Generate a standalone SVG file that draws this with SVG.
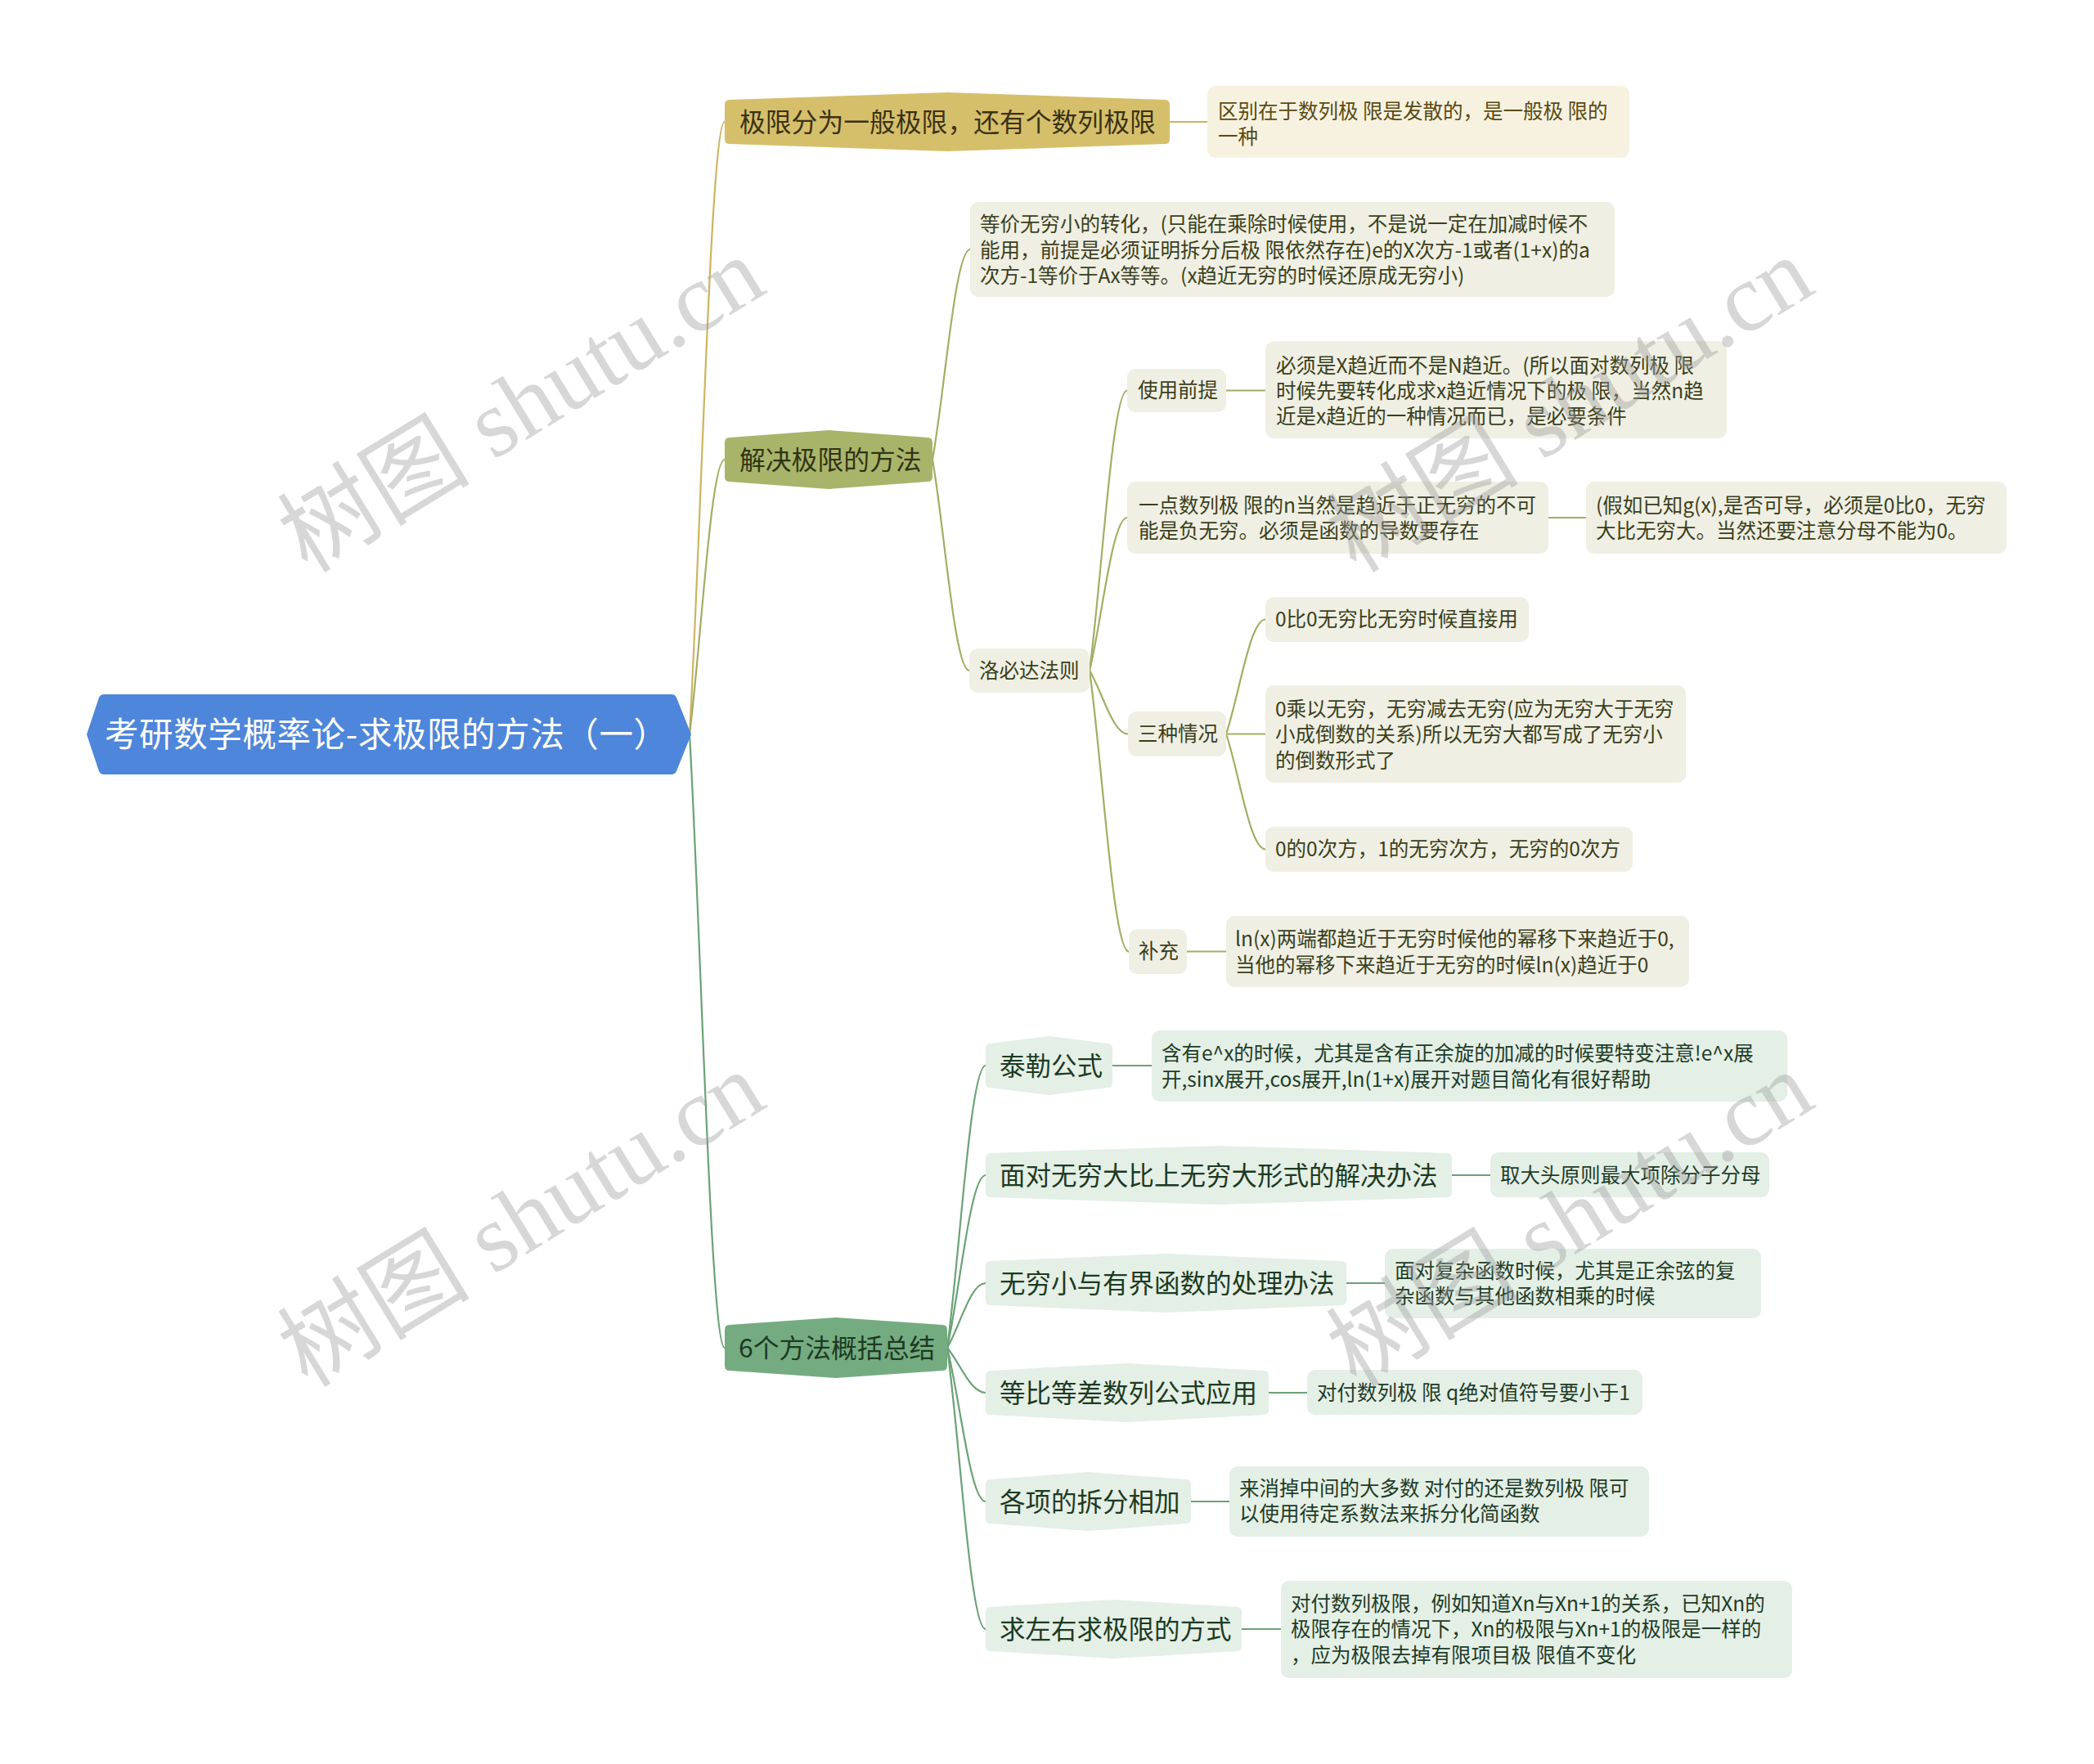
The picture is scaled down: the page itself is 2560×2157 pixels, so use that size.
<svg xmlns="http://www.w3.org/2000/svg" width="2560" height="2157" viewBox="0 0 2560 2157">
<style>
text { font-family: "Noto Sans CJK SC", "Liberation Sans", sans-serif; }
.lf { font-size: 24.5px; }
.mf { font-size: 31.8px; }
.sf { font-size: 31.5px; }
.rf { font-size: 41.5px; fill: #ffffff; }
.gLine { fill: none; stroke: #cdb45e; stroke-width: 2.2; }
.oLine { fill: none; stroke: #a3ad64; stroke-width: 2.2; }
.nLine { fill: none; stroke: #6aa276; stroke-width: 2.2; }
.gMain { fill: #d6bf6b; }
.gLeaf { fill: #f6f2df; }
.gTxt { fill: #3a3214; }
.gLeafTxt { fill: #5a4a14; }
.oMain { fill: #a9b46b; }
.oLeaf { fill: #efefe3; }
.oTxt { fill: #2f3414; }
.oLeafTxt { fill: #3b3f1c; }
.nMain { fill: #75ab80; }
.nLeaf { fill: #e4efe6; }
.nTxt { fill: #1c3a22; }
.nLeafTxt { fill: #1e3c26; }
.wm { font-family: "Liberation Serif", "Noto Sans CJK SC", serif; font-size: 118px; fill: #9a9a9a; fill-opacity: 0.4; }
</style>
<rect width="2560" height="2157" fill="#ffffff"/>

<g id="connectors">
  <path class="gLine" d="M843,898 C857.2,650.8 868.8,149 886,149"/>
  <path class="oLine" d="M843,898 C857.2,787.1 868.8,562 886,562"/>
  <path class="nLine" d="M843,898 C857.2,1145.5 868.8,1648 886,1648"/>
  <path class="gLine" d="M1430,149 L1476,149"/>
  <path class="oLine" d="M1140,562 C1155.2,477.2 1167.6,305 1186,305"/>
  <path class="oLine" d="M1140,562 C1154.9,647.1 1167,820 1185,820"/>
  <path class="oLine" d="M1332,820 C1347.2,707 1359.6,477.5 1378,477.5"/>
  <path class="oLine" d="M1332,820 C1347.2,758.3 1359.6,633 1378,633"/>
  <path class="oLine" d="M1332,820 C1347.5,845.6 1360.2,897.5 1379,897.5"/>
  <path class="oLine" d="M1332,820 C1347.8,933.4 1360.8,1163.5 1380,1163.5"/>
  <path class="oLine" d="M1499,477.5 L1547,477.5"/>
  <path class="oLine" d="M1893,633 L1939,633"/>
  <path class="oLine" d="M1499,897.5 C1514.8,851.3 1527.8,757.5 1547,757.5"/>
  <path class="oLine" d="M1499,897.5 L1547,897.5"/>
  <path class="oLine" d="M1499,897.5 C1514.8,944 1527.8,1038.5 1547,1038.5"/>
  <path class="oLine" d="M1451,1163.5 L1499,1163.5"/>
  <path class="nLine" d="M1158,1648 C1173.5,1534.2 1186.2,1303 1205,1303"/>
  <path class="nLine" d="M1158,1648 C1173.5,1578.4 1186.2,1437 1205,1437"/>
  <path class="nLine" d="M1158,1648 C1173.5,1621.9 1186.2,1569 1205,1569"/>
  <path class="nLine" d="M1158,1648 C1173.5,1666.2 1186.2,1703 1205,1703"/>
  <path class="nLine" d="M1158,1648 C1173.5,1710 1186.2,1836 1205,1836"/>
  <path class="nLine" d="M1158,1648 C1173.5,1761.5 1186.2,1992 1205,1992"/>
  <path class="nLine" d="M1360,1303 L1408,1303"/>
  <path class="nLine" d="M1775,1437 L1822,1437"/>
  <path class="nLine" d="M1646,1569 L1693,1569"/>
  <path class="nLine" d="M1551,1703 L1598,1703"/>
  <path class="nLine" d="M1456,1836 L1503,1836"/>
  <path class="nLine" d="M1518,1992 L1566,1992"/>
</g>

<g id="root">
  <path d="M106,898 L121,853 Q123,849 127,849 L821,849 Q825,849 827,853 L845,898 L827,943 Q825,947 821,947 L127,947 Q123,947 121,943 Z" fill="#4d86da"/>
  <text class="rf" x="128" y="913" textLength="688" lengthAdjust="spacing">考研数学概率论-求极限的方法（一）</text>
</g>

<g id="b1">
  <path class="gMain" d="M886,128 Q886,122 892,122 L1158,113 L1424,122 Q1430,122 1430,128 L1430,170 Q1430,176 1424,176 L1158,185 L892,176 Q886,176 886,170 Z"/>
  <text class="mf gTxt" x="904" y="161">极限分为一般极限，还有个数列极限</text>
</g>
<g id="b1-leaf">
  <rect class="gLeaf" x="1476" y="105" width="516" height="88" rx="10"/>
  <text class="lf gLeafTxt" x="1489" y="145">区别在于数列极 限是发散的，是一般极 限的</text>
  <text class="lf gLeafTxt" x="1489" y="176">一种</text>
</g>

<g id="b2">
  <path class="oMain" d="M886,541 Q886,535 892,535 L1013,526 L1134,535 Q1140,535 1140,541 L1140,583 Q1140,589 1134,589 L1013,598 L892,589 Q886,589 886,583 Z"/>
  <text class="mf oTxt" x="904" y="574">解决极限的方法</text>
</g>
<g id="b2-equiv">
  <rect class="oLeaf" x="1186" y="247" width="788" height="116" rx="10"/>
  <text class="lf oLeafTxt" x="1198" y="283">等价无穷小的转化，(只能在乘除时候使用，不是说一定在加减时候不</text>
  <text class="lf oLeafTxt" x="1198" y="315">能用，前提是必须证明拆分后极 限依然存在)e的X次方-1或者(1+x)的a</text>
  <text class="lf oLeafTxt" x="1198" y="346">次方-1等价于Ax等等。(x趋近无穷的时候还原成无穷小)</text>
</g>
<g id="b2-lhopital">
  <rect class="oLeaf" x="1185" y="793" width="147" height="54" rx="10"/>
  <text class="lf oLeafTxt" x="1197" y="829">洛必达法则</text>
</g>
<g id="lh-premise">
  <rect class="oLeaf" x="1378" y="451" width="121" height="53" rx="10"/>
  <text class="lf oLeafTxt" x="1391" y="486">使用前提</text>
</g>
<g id="lh-premise-leaf">
  <rect class="oLeaf" x="1547" y="417" width="564" height="119" rx="10"/>
  <text class="lf oLeafTxt" x="1560" y="456">必须是X趋近而不是N趋近。(所以面对数列极 限</text>
  <text class="lf oLeafTxt" x="1560" y="487">时候先要转化成求x趋近情况下的极 限，当然n趋</text>
  <text class="lf oLeafTxt" x="1560" y="518">近是x趋近的一种情况而已，是必要条件</text>
</g>
<g id="lh-seq">
  <rect class="oLeaf" x="1378" y="589" width="515" height="88" rx="10"/>
  <text class="lf oLeafTxt" x="1392" y="627">一点数列极 限的n当然是趋近于正无穷的不可</text>
  <text class="lf oLeafTxt" x="1392" y="658">能是负无穷。必须是函数的导数要存在</text>
</g>
<g id="lh-seq-leaf">
  <rect class="oLeaf" x="1939" y="589" width="514" height="88" rx="10"/>
  <text class="lf oLeafTxt" x="1951" y="627">(假如已知g(x),是否可导，必须是0比0，无穷</text>
  <text class="lf oLeafTxt" x="1951" y="658">大比无穷大。当然还要注意分母不能为0。</text>
</g>
<g id="lh-three">
  <rect class="oLeaf" x="1379" y="870" width="120" height="55" rx="10"/>
  <text class="lf oLeafTxt" x="1391" y="906">三种情况</text>
</g>
<g id="three-1">
  <rect class="oLeaf" x="1547" y="730" width="322" height="55" rx="10"/>
  <text class="lf oLeafTxt" x="1559" y="766">0比0无穷比无穷时候直接用</text>
</g>
<g id="three-2">
  <rect class="oLeaf" x="1547" y="838" width="514" height="119" rx="10"/>
  <text class="lf oLeafTxt" x="1559" y="876">0乘以无穷，无穷减去无穷(应为无穷大于无穷</text>
  <text class="lf oLeafTxt" x="1559" y="907">小成倒数的关系)所以无穷大都写成了无穷小</text>
  <text class="lf oLeafTxt" x="1559" y="939">的倒数形式了</text>
</g>
<g id="three-3">
  <rect class="oLeaf" x="1547" y="1011" width="449" height="55" rx="10"/>
  <text class="lf oLeafTxt" x="1559" y="1047">0的0次方，1的无穷次方，无穷的0次方</text>
</g>
<g id="lh-supp">
  <rect class="oLeaf" x="1380" y="1136" width="71" height="55" rx="10"/>
  <text class="lf oLeafTxt" x="1392" y="1172">补充</text>
</g>
<g id="lh-supp-leaf">
  <rect class="oLeaf" x="1499" y="1120" width="566" height="87" rx="10"/>
  <text class="lf oLeafTxt" x="1510" y="1157">ln(x)两端都趋近于无穷时候他的幂移下来趋近于0,</text>
  <text class="lf oLeafTxt" x="1510" y="1189">当他的幂移下来趋近于无穷的时候ln(x)趋近于0</text>
</g>

<g id="b3">
  <path class="nMain" d="M886,1626 Q886,1620 892,1620 L1022,1611 L1152,1620 Q1158,1620 1158,1626 L1158,1670 Q1158,1676 1152,1676 L1022,1685 L892,1676 Q886,1676 886,1670 Z"/>
  <text class="mf nTxt" x="903" y="1660">6个方法概括总结</text>
</g>
<g id="m-taylor">
  <path class="nLeaf" d="M1205,1282 Q1205,1276 1211,1276 L1282.5,1267 L1354,1276 Q1360,1276 1360,1282 L1360,1324 Q1360,1330 1354,1330 L1282.5,1339 L1211,1330 Q1205,1330 1205,1324 Z"/>
  <text class="sf nTxt" x="1222" y="1315">泰勒公式</text>
</g>
<g id="m-taylor-leaf">
  <rect class="nLeaf" x="1408" y="1260" width="777" height="87" rx="10"/>
  <text class="lf nLeafTxt" x="1420" y="1297">含有e^x的时候，尤其是含有正余旋的加减的时候要特变注意!e^x展</text>
  <text class="lf nLeafTxt" x="1420" y="1329">开,sinx展开,cos展开,ln(1+x)展开对题目简化有很好帮助</text>
</g>
<g id="m-inf">
  <path class="nLeaf" d="M1205,1416 Q1205,1410 1211,1410 L1490,1401 L1769,1410 Q1775,1410 1775,1416 L1775,1458 Q1775,1464 1769,1464 L1490,1473 L1211,1464 Q1205,1464 1205,1458 Z"/>
  <text class="sf nTxt" x="1222" y="1449">面对无穷大比上无穷大形式的解决办法</text>
</g>
<g id="m-inf-leaf">
  <rect class="nLeaf" x="1822" y="1409" width="341" height="55" rx="10"/>
  <text class="lf nLeafTxt" x="1834" y="1446">取大头原则最大项除分子分母</text>
</g>
<g id="m-bounded">
  <path class="nLeaf" d="M1205,1548 Q1205,1542 1211,1542 L1425.5,1533 L1640,1542 Q1646,1542 1646,1548 L1646,1590 Q1646,1596 1640,1596 L1425.5,1605 L1211,1596 Q1205,1596 1205,1590 Z"/>
  <text class="sf nTxt" x="1222" y="1581">无穷小与有界函数的处理办法</text>
</g>
<g id="m-bounded-leaf">
  <rect class="nLeaf" x="1693" y="1527" width="460" height="85" rx="10"/>
  <text class="lf nLeafTxt" x="1705" y="1563">面对复杂函数时候，尤其是正余弦的复</text>
  <text class="lf nLeafTxt" x="1705" y="1594">杂函数与其他函数相乘的时候</text>
</g>
<g id="m-series">
  <path class="nLeaf" d="M1205,1682 Q1205,1676 1211,1676 L1378,1667 L1545,1676 Q1551,1676 1551,1682 L1551,1724 Q1551,1730 1545,1730 L1378,1739 L1211,1730 Q1205,1730 1205,1724 Z"/>
  <text class="sf nTxt" x="1222" y="1715">等比等差数列公式应用</text>
</g>
<g id="m-series-leaf">
  <rect class="nLeaf" x="1598" y="1675" width="410" height="55" rx="10"/>
  <text class="lf nLeafTxt" x="1610" y="1712">对付数列极 限 q绝对值符号要小于1</text>
</g>
<g id="m-split">
  <path class="nLeaf" d="M1205,1815 Q1205,1809 1211,1809 L1330.5,1800 L1450,1809 Q1456,1809 1456,1815 L1456,1857 Q1456,1863 1450,1863 L1330.5,1872 L1211,1863 Q1205,1863 1205,1857 Z"/>
  <text class="sf nTxt" x="1222" y="1848">各项的拆分相加</text>
</g>
<g id="m-split-leaf">
  <rect class="nLeaf" x="1503" y="1793" width="513" height="86" rx="10"/>
  <text class="lf nLeafTxt" x="1515" y="1829">来消掉中间的大多数 对付的还是数列极 限可</text>
  <text class="lf nLeafTxt" x="1515" y="1860">以使用待定系数法来拆分化简函数</text>
</g>
<g id="m-lr">
  <path class="nLeaf" d="M1205,1971 Q1205,1965 1211,1965 L1361.5,1956 L1512,1965 Q1518,1965 1518,1971 L1518,2013 Q1518,2019 1512,2019 L1361.5,2028 L1211,2019 Q1205,2019 1205,2013 Z"/>
  <text class="sf nTxt" x="1222" y="2004">求左右求极限的方式</text>
</g>
<g id="m-lr-leaf">
  <rect class="nLeaf" x="1566" y="1933" width="625" height="119" rx="10"/>
  <text class="lf nLeafTxt" x="1578" y="1970">对付数列极限，例如知道Xn与Xn+1的关系，已知Xn的</text>
  <text class="lf nLeafTxt" x="1578" y="2001">极限存在的情况下，Xn的极限与Xn+1的极限是一样的</text>
  <text class="lf nLeafTxt" x="1578" y="2033">，应为极限去掉有限项目极 限值不变化</text>
</g>

<g id="watermarks">
  <text class="wm" x="376" y="702" transform="rotate(-31.5 376 702)">树图 shutu.cn</text>
  <text class="wm" x="1658" y="702" transform="rotate(-31.5 1658 702)">树图 shutu.cn</text>
  <text class="wm" x="376" y="1698" transform="rotate(-31.5 376 1698)">树图 shutu.cn</text>
  <text class="wm" x="1658" y="1698" transform="rotate(-31.5 1658 1698)">树图 shutu.cn</text>
</g>
</svg>
